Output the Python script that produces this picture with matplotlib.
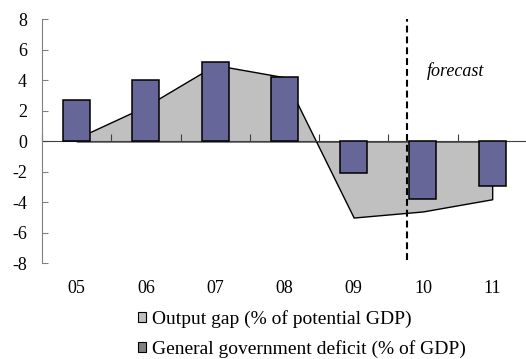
"""Output gap and general government deficit, with forecast marker"""
import numpy as np
import matplotlib
matplotlib.use("Agg")
import matplotlib.pyplot as plt
from matplotlib.patches import Patch

plt.rcParams['font.family'] = ['Liberation Serif', 'DejaVu Serif']
plt.rcParams['axes.unicode_minus'] = False

years = ["05", "06", "07", "08", "09", "10", "11"]
output_gap = [0.2, 2.3, 5.0, 4.2, -5.0, -4.6, -3.8]
gov_deficit = [2.7, 4.0, 5.2, 4.2, -2.1, -3.8, -2.9]
forecast_from = 4.77  # position of dashed line in category units
legend_labels = ["Output gap (% of potential GDP)",
                 "General government deficit (% of GDP)"]

fig = plt.figure(figsize=(5.26, 3.59), dpi=100)
ax = fig.add_axes([0.080, 0.2666, 0.9215, 0.6796])

x = np.arange(len(years))

# grey area for the output gap, bars for the deficit on top
ax.fill_between(x, output_gap, 0, facecolor="#C0C0C0", edgecolor="black",
                linewidth=1.0, zorder=1)
ax.bar(x, gov_deficit, 0.39, color="#666699", edgecolor="black",
       linewidth=1.1, zorder=3)

# forecast marker
ax.vlines(forecast_from, -7.8, 8, colors="black", linewidth=1.5,
          linestyles=(0, (3.3, 1.9)), zorder=4)
ax.text(5.05, 4.6, "forecast", style="italic", fontsize=13,
        ha="left", va="center")

ax.set_xlim(-0.5, 6.5)
ax.set_ylim(-8, 8)
ax.set_yticks(np.arange(-8, 9, 2))

# category axis crosses at zero, ticks between categories
ax.spines['bottom'].set_position(('data', 0))
ax.spines['bottom'].set_color("#404040")
ax.spines['bottom'].set_zorder(2)
ax.spines['left'].set_color("#808080")
ax.spines['top'].set_visible(False)
ax.spines['right'].set_visible(False)
ax.set_xticks(np.arange(-0.5, 6.6, 1.0))
ax.set_xticklabels([])
ax.tick_params(axis="x", direction="in", length=5, color="#404040")
ax.tick_params(axis="y", direction="in", length=4, color="#808080",
               labelsize=13, pad=11)

# category labels sit low, under the plot
for xi, lab in zip(x, years):
    ax.text(xi, -0.105, lab, transform=ax.get_xaxis_transform(),
            ha="center", va="center", fontsize=13)

handles = [Patch(facecolor="#C0C0C0", edgecolor="black", linewidth=0.8),
           Patch(facecolor="#808080", edgecolor="black", linewidth=0.8)]
fig.legend(handles, legend_labels, loc="upper left",
           bbox_to_anchor=(138 / 526, 1 - 310 / 359), frameon=False,
           fontsize=14, handlelength=0.42, handleheight=0.42,
           handletextpad=0.3, labelspacing=0.6, borderpad=0,
           borderaxespad=0)

fig.savefig("out.png", dpi=100)
